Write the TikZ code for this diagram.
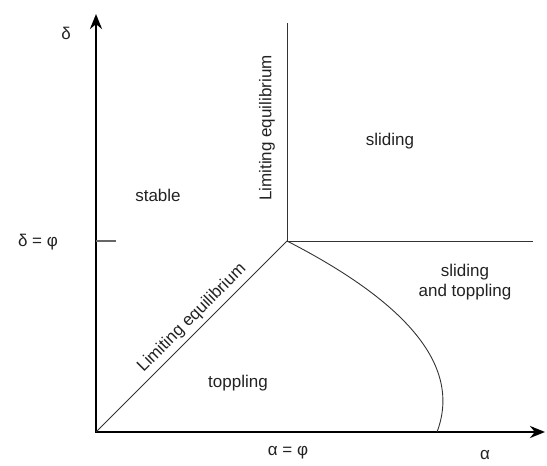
\documentclass[tikz,border=0pt]{standalone}
\usepackage{fontspec}
\setmainfont{Liberation Sans}
\usepackage{tikz}
\usetikzlibrary{positioning,arrows.meta,calc}
\definecolor{LineGrey}{HTML}{333333}
\definecolor{TickGrey}{HTML}{666666}
\definecolor{TextGrey}{HTML}{222222}

\tikzset{
  axis/.style={line width=2.6pt, {Stealth[length=15pt,width=12pt]}-{Stealth[length=15pt,width=12pt]}},
  border/.style={draw=LineGrey, line width=0.9pt},
  tick/.style={draw=TickGrey, line width=1.4pt},
  region/.style={text=TextGrey, font=\fontsize{17}{20}\selectfont, align=center, inner sep=0pt},
}

\begin{document}
\begin{tikzpicture}[x=1pt,y=1pt]
        \useasboundingbox (0,0) rectangle (547,466);
        % axes
        \coordinate (O) at (96,34);
        \coordinate (dtop) at (96,452);
        \coordinate (aend) at (545,34);
        \coordinate (C) at (287,225);
        \coordinate (vtop) at (287,443);
        \coordinate (hend) at (533,225);
        \coordinate (tickend) at (116,225);
        \coordinate (tickstart) at (96,225);
        \coordinate (B) at (437,34);
        \draw[axis] (dtop) -- (O) -- (aend);
        \draw[tick] (tickstart) -- (tickend);
        % region borders
        \draw[border] (O) -- (C);
        \draw[border] (C) -- (vtop);
        \draw[border] (C) -- (hend);
        \draw[border] (C) .. controls (411.1,161.3) and (461.2,97.7) .. (B);
        % axis labels
        \node[region] (dlabel) at (66,433) {δ};
        \node[region] (dphi) at (38,224) {δ = φ};
        \node[region] (aphi) at (288,13) {α = φ};
        \node[region] (alabel) at (485,11) {α};
        % regions
        \node[region] (stable) at (158,271) {stable};
        \node[region] (sliding) at (390,325) {sliding};
        \node[region] (both) at (465,184) {sliding\\and toppling};
        \node[region] (toppling) at (238,83) {toppling};
        \node[region, rotate=90] (limv) at (267,338) {Limiting equilibrium};
        \node[region, rotate=45] (limd) at (192,148) {Limiting equilibrium};
\end{tikzpicture}
\end{document}
